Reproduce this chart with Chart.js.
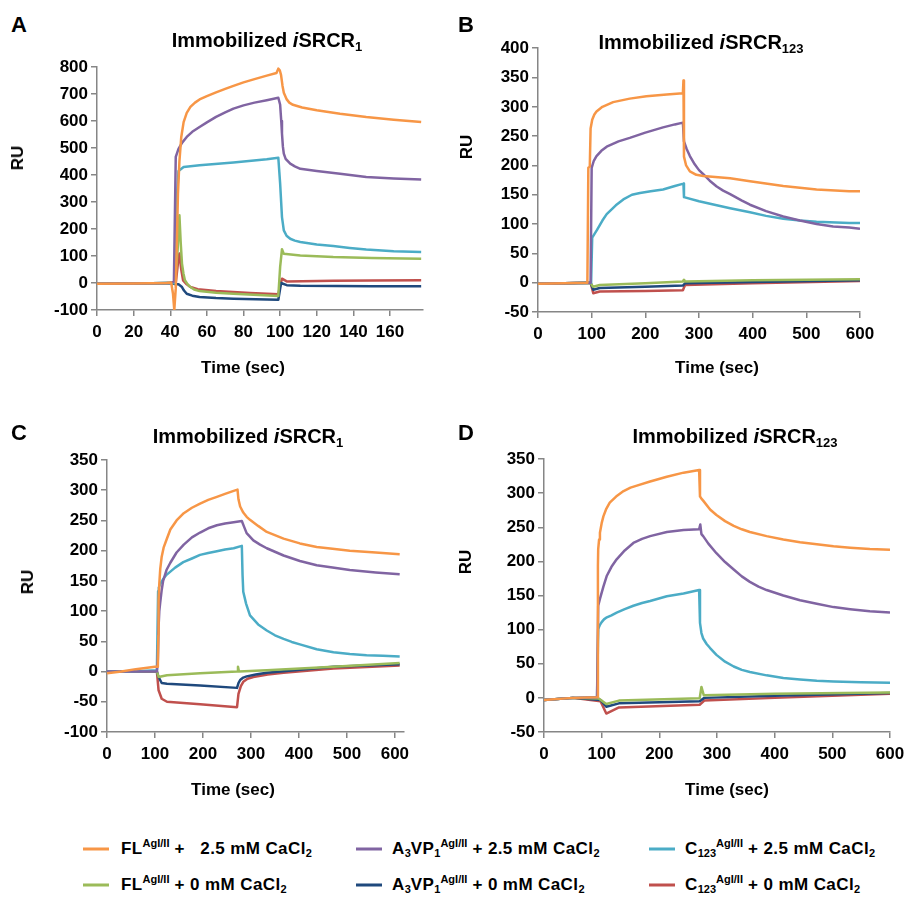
<!DOCTYPE html>
<html>
<head>
<meta charset="utf-8">
<script src="https://cdn.jsdelivr.net/npm/chart.js@4.4.1/dist/chart.umd.min.js"></script>
<style>
  html, body { margin: 0; padding: 0; background: #fff; overflow: hidden; }
  #fig { position: relative; width: 905px; height: 899px; font-family: "Liberation Sans", Arial, sans-serif; color: #000; }
  canvas { position: absolute; }
  .lbl { position: absolute; font-weight: bold; white-space: nowrap; }
  .panel { font-size: 22px; transform: translateY(-50%); }
  .title { font-size: 20px; transform: translate(-50%, -50%); }
  .title sub { font-size: 13px; vertical-align: -4px; line-height: 0; }
  .ru { font-size: 17px; transform: translate(-50%, -50%) rotate(-90deg); }
  .xt { font-size: 17px; transform: translate(-50%, -50%); }
  .leg { position: absolute; font-family: "Liberation Sans Narrow", "Arial Narrow", "Liberation Sans", sans-serif; font-weight: bold; font-size: 17px; letter-spacing: 0.4px; white-space: pre; transform: translateY(-50%); }
  .leg sup { font-size: 11px; vertical-align: 7px; line-height: 0; letter-spacing: 0; }
  .leg sub { font-size: 11px; vertical-align: -3px; line-height: 0; letter-spacing: 0; }
  .sw { position: absolute; height: 3px; width: 26px; transform: translateY(-50%); }
</style>
</head>
<body>
<div id="fig">
  <canvas id="chA" style="left:0px;top:50px" width="445" height="340"></canvas>
  <canvas id="chB" style="left:450px;top:35px" width="455" height="345"></canvas>
  <canvas id="chC" style="left:0px;top:420px" width="445" height="385"></canvas>
  <canvas id="chD" style="left:450px;top:420px" width="455" height="385"></canvas>

  <div class="lbl panel" style="left:11px;top:25px">A</div>
  <div class="lbl panel" style="left:458px;top:25px">B</div>
  <div class="lbl panel" style="left:11px;top:433px">C</div>
  <div class="lbl panel" style="left:458px;top:433px">D</div>

  <div class="lbl title" style="left:267px;top:40px">Immobilized <i>i</i>SRCR<sub>1</sub></div>
  <div class="lbl title" style="left:701px;top:42px">Immobilized <i>i</i>SRCR<sub>123</sub></div>
  <div class="lbl title" style="left:248px;top:436px">Immobilized <i>i</i>SRCR<sub>1</sub></div>
  <div class="lbl title" style="left:735px;top:436px">Immobilized <i>i</i>SRCR<sub>123</sub></div>

  <div class="lbl ru" style="left:18px;top:158px">RU</div>
  <div class="lbl ru" style="left:467px;top:147px">RU</div>
  <div class="lbl ru" style="left:28px;top:582px">RU</div>
  <div class="lbl ru" style="left:466px;top:562px">RU</div>

  <div class="lbl xt" style="left:243px;top:368px">Time (sec)</div>
  <div class="lbl xt" style="left:717px;top:368px">Time (sec)</div>
  <div class="lbl xt" style="left:233px;top:790px">Time (sec)</div>
  <div class="lbl xt" style="left:727px;top:790px">Time (sec)</div>

  <div class="sw" style="left:83px;top:849px;background:#F79646"></div>
  <div class="leg" style="left:121px;top:849px">FL<sup>AgI/II</sup> +   2.5 mM CaCl<sub>2</sub></div>
  <div class="sw" style="left:83px;top:885px;background:#9BBB59"></div>
  <div class="leg" style="left:121px;top:885px">FL<sup>AgI/II</sup> + 0 mM CaCl<sub>2</sub></div>
  <div class="sw" style="left:356px;top:849px;background:#8064A2"></div>
  <div class="leg" style="left:392px;top:849px">A<sub>3</sub>VP<sub>1</sub><sup>AgI/II</sup> + 2.5 mM CaCl<sub>2</sub></div>
  <div class="sw" style="left:356px;top:885px;background:#1F497D"></div>
  <div class="leg" style="left:392px;top:885px">A<sub>3</sub>VP<sub>1</sub><sup>AgI/II</sup> + 0 mM CaCl<sub>2</sub></div>
  <div class="sw" style="left:649px;top:849px;background:#4BACC6"></div>
  <div class="leg" style="left:685px;top:849px">C<sub>123</sub><sup>AgI/II</sup> + 2.5 mM CaCl<sub>2</sub></div>
  <div class="sw" style="left:649px;top:885px;background:#C0504D"></div>
  <div class="leg" style="left:685px;top:885px">C<sub>123</sub><sup>AgI/II</sup> + 0 mM CaCl<sub>2</sub></div>
</div>

<script>
/* ── Data: [time (sec), RU] ──────────────────────────────── */

// Panel A — immobilized iSRCR1
const aFL25 = [[0,-3],[20,-2],[38,0],[40.5,2],[41.5,-40],[42.2,-100],[43,-20],[43.6,150],[44.2,330],[45,450],[46,540],[47.3,596],[49,630],[51,652],[53.5,668],[56,680],[60,692],[65,706],[70,719],[74.5,730],[80,743],[86,755],[92.7,768],[98,778],[99,794],[99.8,788],[100.5,770],[101.3,730],[102,705],[103.6,680],[105,668],[107,660],[112,650],[120,640],[132.7,627],[147,615],[162,605],[177,596]];
const aA3V25 = [[0,-3],[20,-2],[40,0],[42,5],[43,467],[44.5,497],[46.5,520],[49,541],[52,560],[56,578],[60,595],[65,615],[70,632],[74.5,646],[80,658],[86,668],[92.7,677],[99,686],[100,660],[100.6,600],[101,553],[101.5,505],[102,479],[103,460],[105.5,442],[108,432],[111,423],[120,415],[132.7,405],[147,393],[162,387],[177,383]];
const aC12325 = [[0,-3],[20,-2],[40,0],[42.5,0],[43.5,300],[44.5,415],[47.3,430],[56,436],[74.5,446],[92.7,458],[99,464],[100,368],[101,244],[102,195],[103.5,175],[105.5,164],[108,157],[111,152],[120,143],[129,137],[138,130],[147,124],[162,118],[177,115]];
const aFL0 = [[0,-3],[20,-2],[40,0],[42.5,0],[44,120],[45,251],[45.7,150],[46.4,72],[47.2,35],[48,10],[49.5,-5],[51,-15],[53,-24],[56,-30],[65,-36],[74.5,-40],[99,-48],[100,60],[101,125],[102,108],[111,102],[129,96],[150,93],[177,90]];
const aA3V0 = [[0,-3],[20,-2],[40,0],[43,-5],[44.5,-5],[46.4,-15],[47.5,-28],[49,-40],[52,-47],[56,-52],[65,-56],[74.5,-58],[99,-62],[100.5,0],[103.6,-8],[111,-10],[150,-12],[177,-12]];
const aC1230 = [[0,-3],[20,-2],[40,0],[43,0],[44.3,80],[45,109],[46,50],[47,10],[49,-5],[51,-15],[55,-23],[65,-30],[83.6,-37],[99,-42],[100,-10],[101,16],[103.6,6],[129,8],[150,9],[177,10]];

// Panel B — immobilized iSRCR123
const bFL25 = [[0,-2],[50,-1],[92,0],[93.8,196],[96.5,198],[98,263],[101,278],[105,287],[109,292],[120,300],[140,308],[171,314],[202,318],[240,321],[270,323],[271,345],[272,215],[276,200],[283,190],[295,184],[308,182],[358,178],[395,173],[457,165],[519,159],[580,156],[600,156]];
const bA3V25 = [[0,-2],[50,-1],[98,0],[100,196],[104,208],[109,216],[118,225],[128,232],[150,241],[171,247],[200,256],[233,265],[255,270],[270,273],[272,241],[277,228],[283,216],[292,202],[300,192],[308,185],[320,174],[333,164],[345,157],[358,151],[380,140],[395,133],[425,122],[457,113],[488,106],[519,100],[550,96],[580,94],[600,92]];
const bC12325 = [[0,-2],[50,-1],[99,0],[101,77],[110,90],[120,106],[128,117],[145,132],[159,142],[175,150],[190,153],[210,156],[233,159],[255,165],[271,169],[272,146],[300,139],[333,132],[358,127],[395,120],[425,114],[457,109],[488,106],[519,104],[580,102],[600,102]];
const bFL0 = [[0,-2],[50,-1],[98,0],[101,-5],[103,-7],[115,-4],[200,-1],[270,2],[272,5],[274,2],[400,4],[600,6]];
const bA3V0 = [[0,-2],[50,-1],[98,0],[103,-12],[115,-9],[200,-7],[270,-5],[274,-1],[400,1],[600,4]];
const bC1230 = [[0,-2],[50,-1],[98,0],[103,-18],[115,-15],[200,-14],[270,-13],[274,-4],[400,-1],[600,3]];

// Panel C — immobilized iSRCR1
const cFL25 = [[0,-3],[30,0],[60,4],[100,8],[106,8],[107,60],[107.5,118],[109,145],[111,170],[114,190],[118,205],[124,218],[132,235],[145,250],[160,262],[177,271],[194,278],[211,284],[229,289],[246,294],[264,299],[272,301],[274,285],[277.5,273],[284,263],[291,256],[298,251],[315,241],[333,231],[368,220],[402,212],[437,206],[470,203],[506,200],[560,197],[610,194]];
const cA3V25 = [[0,0],[50,0],[104,0],[106,20],[107.5,74],[109,100],[111,115],[114,135],[117,150],[124,168],[132,180],[145,197],[160,210],[177,222],[194,230],[211,237],[229,242],[246,245],[264,247],[281,249],[286,239],[291,229],[305,217],[319,210],[333,204],[368,192],[402,183],[437,176],[470,172],[506,168],[560,164],[610,161]];
const cC12325 = [[0,0],[50,0],[104,2],[106.5,133],[108,139],[111,145],[117,153],[124,160],[142,172],[159,181],[177,187],[194,193],[211,196],[229,199],[246,202],[264,204],[281,208],[282.5,160],[284,132],[290,112],[298,93],[315,78],[333,68],[350,60],[368,54],[385,49],[402,45],[437,37],[472,32],[506,29],[541,27],[575,26],[610,25]];
const cFL0 = [[0,0],[104,0],[107.5,-9],[125,-6],[194,-3],[271,0],[273,8],[275,0],[333,2],[472,8],[610,14]];
const cA3V0 = [[0,0],[104,0],[107.5,-9],[114,-19],[125,-20],[194,-23],[271,-27],[274,-19],[277.5,-14],[284,-10],[291,-8],[310,-5],[333,-2],[402,3],[472,8],[610,12]];
const cC1230 = [[0,0],[104,0],[107.5,-31],[114,-45],[125,-50],[194,-54],[271,-59],[274,-37],[279,-24],[284,-17],[293,-12],[305,-9],[335,-5],[368,-2],[472,5],[610,10]];

// Panel D — immobilized iSRCR123
const dFL25 = [[0,-3],[50,0],[92,1],[93.5,193],[94,218],[95.5,232],[97,242],[100,256],[103,266],[108,277],[114,286],[125,295],[138,303],[150,308],[161,311],[184,317],[213,324],[242,330],[269,334],[270.5,295],[273,292],[276,289],[288,276],[299,268],[314,259],[329,252],[343,247],[357,243],[386,237],[415,232],[444,228],[473,225],[502,222],[531,220],[565,218],[600,217]];
const dA3V25 = [[0,-3],[50,0],[92,1],[94,135],[97,145],[103,163],[109,179],[117,192],[126,203],[140,216],[155,227],[170,233],[184,237],[213,243],[242,246],[269,247],[271,254],[273,240],[276,237],[285,226],[299,212],[314,199],[329,188],[343,178],[357,170],[372,163],[386,158],[415,150],[444,143],[473,138],[502,133],[531,130],[565,127],[600,125]];
const dC12325 = [[0,-3],[50,0],[92,1],[94,101],[97,107],[100,111],[104,115],[109,118],[117,121],[126,125],[140,130],[155,135],[170,139],[184,142],[213,149],[242,153],[269,158],[270.5,110],[273,95],[276,87],[282,79],[288,73],[299,63],[314,53],[329,46],[343,41],[357,38],[386,33],[415,29],[444,27],[473,25],[502,24],[550,23],[600,22]];
const dFL0 = [[0,-3],[50,0],[95,-1],[108,-9],[130,-4],[270,-0.5],[273,16],[277,4],[400,6],[600,8]];
const dA3V0 = [[0,-3],[50,0],[98,-3],[108,-13],[130,-8],[270,-5],[278,0],[400,3],[600,7]];
const dC1230 = [[0,-3],[50,0],[98,-5],[108,-23],[130,-14],[270,-10],[278,-4],[400,0],[600,6]];

// Tick settings per panel
const aXTicks = { max: 178, step: 20 };
const aYTicks = { min: -100, max: 800, step: 100 };
const bXTicks = { max: 600, step: 100 };
const bYTicks = { min: -50, max: 400, step: 50 };
const cXTicks = { max: 619, step: 100 };
const cYTicks = { min: -100, max: 350, step: 50 };
const dXTicks = { max: 600, step: 100 };
const dYTicks = { min: -50, max: 350, step: 50 };

/* ── Series styling ──────────────────────────────────────── */

const COLORS = ['#F79646', '#8064A2', '#4BACC6', '#9BBB59', '#1F497D', '#C0504D'];
const AXIS = '#868686';
const TICK_FONT = { family: '"Liberation Sans", Arial, sans-serif', size: 17, weight: 'bold' };

/**
 * Draw one sensorgram panel.
 * box gives the fixed chart-area geometry inside the canvas.
 */
function makePanel(id, series, xt, yt, box) {
  const datasets = series.map((pts, i) => ({
    data: pts.map(p => ({ x: p[0], y: p[1] })),
    borderColor: COLORS[i],
    borderWidth: 2.5,
    pointRadius: 0,
    fill: false,
    tension: 0,
    borderJoinStyle: 'round',
  }));

  new Chart(document.getElementById(id), {
    type: 'line',
    data: { datasets },
    options: {
      responsive: false,
      animation: false,
      events: [],
      layout: { padding: { top: box.top, right: box.right, left: 0, bottom: 0 } },
      plugins: { legend: { display: false }, tooltip: { enabled: false } },
      scales: {
        x: {
          type: 'linear',
          min: 0,
          max: xt.max,
          // fixed axis band; the last label may run into the right margin
          afterFit: s => { s.height = box.xh; s.paddingRight = 0; },
          ticks: { stepSize: xt.step, includeBounds: false, color: '#000', font: TICK_FONT, padding: 6, maxRotation: 0 },
          grid: { drawOnChartArea: false, drawTicks: true, tickLength: 6, color: AXIS, lineWidth: 1.5 },
          border: { color: AXIS, width: 1.5 },
        },
        y: {
          min: yt.min,
          max: yt.max,
          afterFit: s => { s.width = box.yw; },
          ticks: { stepSize: yt.step, color: '#000', font: TICK_FONT, padding: 3 },
          grid: { drawOnChartArea: false, drawTicks: true, tickLength: 6, color: AXIS, lineWidth: 1.5 },
          border: { color: AXIS, width: 1.5 },
        },
      },
    },
  });
}

makePanel('chA', [aFL25, aA3V25, aC12325, aFL0, aA3V0, aC1230], aXTicks, aYTicks, { top: 17, right: 22, yw: 97, xh: 80 });
makePanel('chB', [bFL25, bA3V25, bC12325, bFL0, bA3V0, bC1230], bXTicks, bYTicks, { top: 11, right: 45, yw: 88, xh: 68 });
makePanel('chC', [cFL25, cA3V25, cC12325, cFL0, cA3V0, cC1230], cXTicks, cYTicks, { top: 40, right: 41, yw: 107, xh: 73 });
makePanel('chD', [dFL25, dA3V25, dC12325, dFL0, dA3V0, dC1230], dXTicks, dYTicks, { top: 39, right: 15, yw: 94, xh: 73 });
</script>
</body>
</html>
